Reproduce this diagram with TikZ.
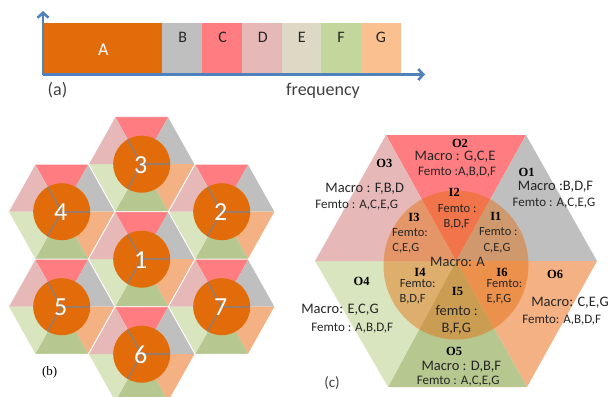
\documentclass[tikz,border=0pt]{standalone}
\usepackage{fontspec}
\setmainfont{Carlito}
\newfontfamily\lblfont{Liberation Serif}
\usetikzlibrary{arrows.meta}
\definecolor{cA}{HTML}{E36C0A}
\definecolor{cB}{HTML}{BFBFBF}
\definecolor{cC}{HTML}{FF7C80}
\definecolor{cD}{HTML}{E6B9B8}
\definecolor{cE}{HTML}{DDD9C4}
\definecolor{cF}{HTML}{C3D69B}
\definecolor{cG}{HTML}{FAC090}
\definecolor{axisblue}{HTML}{4F81BD}
\definecolor{hexE}{HTML}{D9E5BE}
\definecolor{hexF}{HTML}{B6C78F}
\definecolor{hexG}{HTML}{F4B183}
\definecolor{linegray}{HTML}{9A7B66}
\definecolor{txt}{HTML}{262626}
\newcommand\hexcell[4]{%
  \begin{scope}[shift={(#1,#2)}]
    \fill[cC] (0,0)--(-26.65,-47.5)--(26.65,-47.5)--cycle;
    \fill[cB] (0,0)--(26.65,-47.5)--(53.3,0)--cycle;
    \fill[hexG] (0,0)--(53.3,0)--(26.65,47.5)--cycle;
    \fill[hexF] (0,0)--(26.65,47.5)--(-26.65,47.5)--cycle;
    \fill[hexE] (0,0)--(-26.65,47.5)--(-53.3,0)--cycle;
    \fill[cD] (0,0)--(-53.3,0)--(-26.65,-47.5)--cycle;
    \draw[white, line width=0.8pt] (53.3,0)--(26.65,-47.5)--(-26.65,-47.5)--(-53.3,0)--(-26.65,47.5)--(26.65,47.5)--cycle;
    \fill[cA] (0,0) circle (28.5);
    \draw[spoke] (0,0)--(28.5,0);
    \draw[spoke] (0,0)--(120:28.5);
    \draw[spoke] (0,0)--(240:28.5);
    \node[num] (#4) at (-1,9) {#3};
  \end{scope}}
\begin{document}
\begin{tikzpicture}[x=1pt,y=-1pt,
  lab/.style={inner sep=0pt, anchor=base, text=txt},
  barlab/.style={lab, font=\fontsize{16}{17}\selectfont},
  big/.style={lab, font=\fontsize{18}{19}\selectfont, text=black!75},
  num/.style={inner sep=0pt, anchor=base, text=white, font=\fontsize{26}{27}\selectfont},
  spoke/.style={linegray, line width=1.6pt},
  macro/.style={lab, font=\fontsize{14.5}{15}\selectfont},
  femto/.style={lab, font=\fontsize{13}{14}\selectfont},
  inner/.style={lab, font=\fontsize{12.5}{13}\selectfont},
  olbl/.style={lab, text=black, font=\lblfont\bfseries\fontsize{12.5}{13}\selectfont},
  axis/.style={axisblue, line width=2.6pt, -{Straight Barb[length=5pt,width=11pt,line width=2.6pt]}}]
\useasboundingbox (0,0) rectangle (609,396);
\clip (0,0) rectangle (609,396);
% ---------- (a) spectrum ----------
\fill[cA] (43,23.3) rectangle (162,74);
\fill[cB] (162,23.3) rectangle (202,74);
\fill[cC] (202,23.3) rectangle (242,74);
\fill[cD] (242,23.3) rectangle (282,74);
\fill[cE] (282,23.3) rectangle (321,74);
\fill[cF] (321,23.3) rectangle (361,74);
\fill[cG] (361,23.3) rectangle (401,74);
\coordinate (org) at (43,74.5);
\coordinate (ytip) at (43,11);
\coordinate (xtip) at (425,74.5);
\draw[axis] (org) -- (ytip);
\draw[axis] (org) -- (xtip);
\node[barlab, text=white, font=\fontsize{18}{19}\selectfont] (lA) at (103.3,56) {A};
\node[barlab] (lB) at (182.7,42.7) {B};
\node[barlab] (lC) at (222.7,42.7) {C};
\node[barlab] (lD) at (262.7,42.7) {D};
\node[barlab] (lE) at (301.7,42.7) {E};
\node[barlab] (lF) at (341,42.7) {F};
\node[barlab] (lG) at (381,42.7) {G};
\node[big] (capa) at (57.5,95) {(a)};
\node[big] (freq) at (323,95) {frequency};
% ---------- (b) cluster ----------
\hexcell{141.7}{164.2}{3}{n3}
\hexcell{61.7}{211.7}{4}{n4}
\hexcell{221.7}{211.7}{2}{n2}
\hexcell{141.7}{259.2}{1}{n1}
\hexcell{61.7}{306.7}{5}{n5}
\hexcell{221.7}{306.7}{7}{n7}
\hexcell{141.7}{354.2}{6}{n6}
\node[lab, text=black, font=\lblfont\fontsize{13}{14}\selectfont] (capb) at (49.7,375) {(b)};
% ---------- (c) big hexagon ----------
\coordinate (C) at (456,261);
\coordinate (L) at (315,261);
\coordinate (TL) at (386,135);
\coordinate (TR) at (526,135);
\coordinate (R) at (597,261);
\coordinate (BR) at (527,387);
\coordinate (BL) at (388,387);
\fill[cC] (C)--(TL)--(TR)--cycle;
\fill[cB] (C)--(TR)--(R)--cycle;
\fill[hexG] (C)--(R)--(BR)--cycle;
\fill[hexF] (C)--(BR)--(BL)--cycle;
\fill[hexE] (C)--(BL)--(L)--cycle;
\fill[cD] (C)--(L)--(TL)--cycle;
\fill[cA, opacity=0.45] (456,265) ellipse [x radius=72.5, y radius=74.5];
% outer labels
\node[olbl] (o2) at (460,147) {O2};
\node[macro] (o2m) at (455,160) {Macro : G,C,E};
\node[femto] (o2f) at (457,175.3) {Femto :A,B,D,F};
\node[olbl] (o3) at (384.3,167.7) {O3};
\node[macro] (o3m) at (364.7,192.7) {Macro : F,B,D};
\node[femto] (o3f) at (356.7,208.3) {Femto : A,C,E,G};
\node[olbl] (o1) at (526.7,176.5) {O1};
\node[macro] (o1m) at (555.5,190) {Macro :B,D,F};
\node[femto] (o1f) at (554,206) {Femto : A,C,E,G};
\node[olbl] (o4) at (361.7,285) {O4};
\node[macro] (o4m) at (340,313.3) {Macro: E,C,G};
\node[femto] (o4f) at (352.2,331.7) {Femto : A,B,D,F};
\node[olbl] (o6) at (555,278.3) {O6};
\node[macro] (o6m) at (570,306) {Macro: C,E,G};
\node[femto] (o6f) at (561.7,323.3) {Femto: A,B,D,F};
\node[olbl] (o5) at (454.2,355) {O5};
\node[macro] (o5m) at (461.3,370.7) {Macro : D,B,F};
\node[femto] (o5f) at (458.3,384) {Femto : A,C,E,G};
% inner labels
\node[olbl] (i2) at (454.2,196.7) {I2};
\node[inner] (i2a) at (457.2,212.7) {Femto :};
\node[inner] (i2b) at (456.7,227.3) {B,D,F};
\node[olbl] (i3) at (414,221.7) {I3};
\node[inner] (i3a) at (410,236.7) {Femto:};
\node[inner] (i3b) at (405.8,251.7) {C,E,G};
\node[olbl] (i1) at (495.8,220) {I1};
\node[inner] (i1a) at (498.3,235.3) {Femto :};
\node[inner] (i1b) at (497,251.7) {C,E,G};
\node[macro] (ma) at (457.5,266.7) {Macro: A};
\node[olbl] (i4) at (420,276) {I4};
\node[inner] (i4a) at (417.7,287.3) {Femto:};
\node[inner] (i4b) at (412.7,302.7) {B,D,F};
\node[olbl] (i5) at (457.5,295) {I5};
\node[macro] (i5a) at (456.7,315) {femto :};
\node[macro] (i5b) at (456.3,332.7) {B,F,G};
\node[olbl] (i6) at (502,276) {I6};
\node[inner] (i6a) at (504.5,287.3) {Femto:};
\node[inner] (i6b) at (499,302.7) {E,F,G};
\node[big, font=\fontsize{15}{16}\selectfont] (capc) at (332,387.3) {(c)};
\end{tikzpicture}
\end{document}
